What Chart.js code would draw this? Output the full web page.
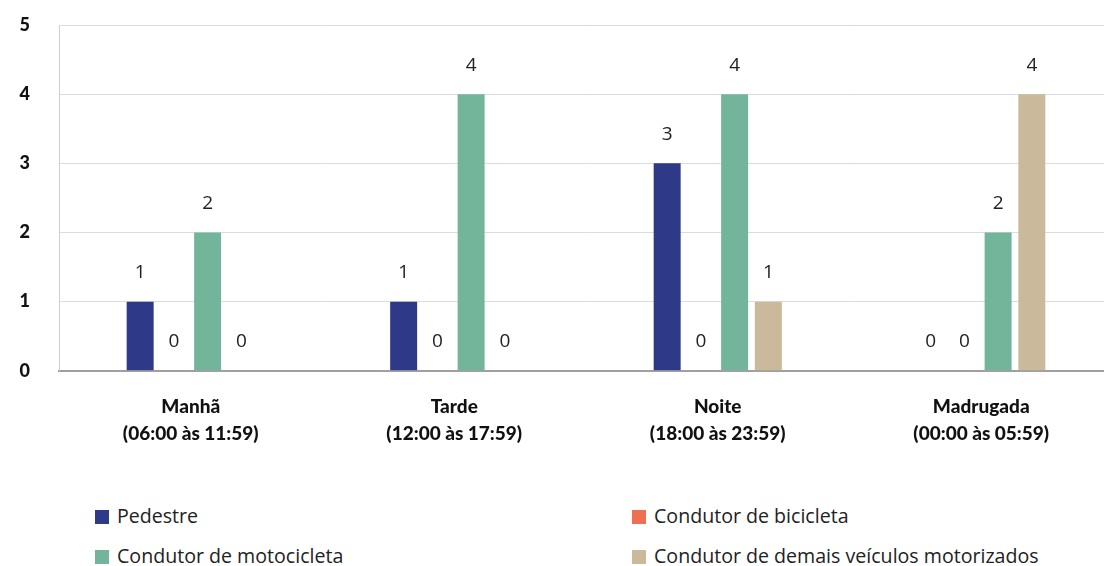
<!DOCTYPE html>
<html>
<head>
<meta charset="utf-8">
<script src="https://cdn.jsdelivr.net/npm/chart.js@4.4.0/dist/chart.umd.min.js"></script>
<style>
  body { margin: 0; background: #fff; font-family: "Open Sans", Lato, sans-serif; overflow: hidden; }
  #wrap { position: relative; width: 1104px; height: 566px; overflow: hidden; }
  #box { position: absolute; left: 0; top: 0; width: 1113px; height: 462px; }
  .leg { position: absolute; font-size: 19.6px; color: #222; line-height: 20px; }
  .leg span { display: inline-block; width: 14px; height: 14px; margin-right: 8px; vertical-align: -1px; }
</style>
</head>
<body>
<div id="wrap">
  <div id="box"><canvas id="myChart"></canvas></div>
  <div class="leg" style="left:95px; top:506px;"><span style="background:#2e3a87"></span>Pedestre</div>
  <div class="leg" style="left:632px; top:506px;"><span style="background:#ef6f52"></span>Condutor de bicicleta</div>
  <div class="leg" style="left:95px; top:546px;"><span style="background:#72b59a"></span>Condutor de motocicleta</div>
  <div class="leg" style="left:632px; top:546px;"><span style="background:#cbb99c"></span>Condutor de demais veículos motorizados</div>
</div>
<script>
  // Data
  var categories = [['Manhã', '(06:00 às 11:59)'], ['Tarde', '(12:00 às 17:59)'], ['Noite', '(18:00 às 23:59)'], ['Madrugada', '(00:00 às 05:59)']];
  var pedestre = [1, 1, 3, 0];
  var bicicleta = [0, 0, 0, 0];
  var motocicleta = [2, 4, 4, 2];
  var demais = [0, 0, 1, 4];

  // Value labels above each bar (zeros included)
  var valueLabels = {
    id: 'valueLabels',
    afterDatasetsDraw: function (chart) {
      var ctx = chart.ctx;
      ctx.save();
      ctx.font = '19px "Open Sans", Lato, sans-serif';
      ctx.fillStyle = '#222';
      ctx.textAlign = 'center';
      ctx.textBaseline = 'middle';
      chart.data.datasets.forEach(function (ds, i) {
        chart.getDatasetMeta(i).data.forEach(function (bar, j) {
          ctx.fillText(ds.data[j], bar.x, bar.y - 29);
        });
      });
      ctx.restore();
    }
  };

  var ctx = document.getElementById('myChart').getContext('2d');

  var data = {
    labels: categories,
    datasets: [
      { label: 'Pedestre', data: pedestre, backgroundColor: '#2e3a87' },
      { label: 'Condutor de bicicleta', data: bicicleta, backgroundColor: '#ef6f52' },
      { label: 'Condutor de motocicleta', data: motocicleta, backgroundColor: '#72b59a' },
      { label: 'Condutor de demais veículos motorizados', data: demais, backgroundColor: '#cbb99c' },
    ],
  };

  var options = {
    responsive: true,
    maintainAspectRatio: false,
    animation: false,
    layout: { padding: { top: 25, right: 0, left: 0, bottom: 0 } },
    datasets: { bar: { barPercentage: 0.8, categoryPercentage: 0.512 } },
    plugins: {
      legend: { display: false },
      tooltip: { enabled: false },
    },
    scales: {
      x: {
        grid: { display: false },
        border: { color: '#a0a0a0', width: 2 },
        ticks: {
          color: '#111',
          padding: 15,
          font: { family: 'Lato', size: 19, weight: '900', lineHeight: 1.4 },
        },
      },
      y: {
        min: 0,
        max: 5,
        afterFit: function (axis) {
          axis.width = 59;
          axis.paddingTop = 0;
          axis.paddingBottom = 0;
        },
        grid: { color: '#dcdcdc', drawTicks: false },
        border: { color: '#cfcfcf' },
        ticks: {
          stepSize: 1,
          color: '#111',
          padding: 29,
          font: { family: 'Lato', size: 18, weight: '900' },
        },
      },
    },
  };

  var barChart = new Chart(ctx, {
    type: 'bar',
    data: data,
    options: options,
    plugins: [valueLabels],
  });
</script>
</body>
</html>
